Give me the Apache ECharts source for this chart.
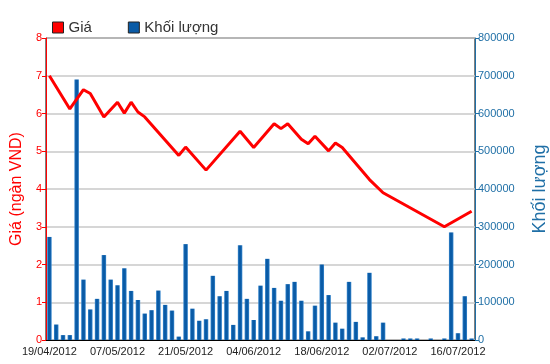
<!DOCTYPE html>
<html>
<head>
<meta charset="utf-8">
<script src="https://cdn.jsdelivr.net/npm/echarts@6/dist/echarts.min.js"></script>
<style>
html,body{margin:0;padding:0;background:#fff;}
#chart{width:550px;height:364px;}
</style>
</head>
<body>
<div id="chart"></div>
<script>
const categories = [
  "19/04/2012","20/04/2012","23/04/2012","24/04/2012","25/04/2012","26/04/2012","27/04/2012",
  "02/05/2012","03/05/2012","04/05/2012","07/05/2012","08/05/2012","09/05/2012","10/05/2012","11/05/2012",
  "14/05/2012","15/05/2012","16/05/2012","17/05/2012","18/05/2012","21/05/2012","22/05/2012","23/05/2012",
  "24/05/2012","25/05/2012","28/05/2012","29/05/2012","30/05/2012","31/05/2012","01/06/2012","04/06/2012",
  "05/06/2012","06/06/2012","07/06/2012","08/06/2012","11/06/2012","12/06/2012","13/06/2012","14/06/2012",
  "15/06/2012","18/06/2012","19/06/2012","20/06/2012","21/06/2012","22/06/2012","25/06/2012","26/06/2012",
  "27/06/2012","28/06/2012","29/06/2012","02/07/2012","03/07/2012","04/07/2012","05/07/2012","06/07/2012",
  "09/07/2012","10/07/2012","11/07/2012","12/07/2012","13/07/2012","16/07/2012","17/07/2012","18/07/2012"
];

const priceValues = [
  7.0, null, null, 6.12, null, 6.63, 6.53, null, 5.91, null,
  6.3, 6.01, 6.30, 6.04, 5.91, null, null, null, null, 4.89,
  5.11, null, null, 4.5, null, null, null, null, 5.53, null,
  5.10, null, null, 5.73, 5.6, 5.73, null, 5.32, 5.2, 5.40,
  null, 5.01, 5.22, 5.1, null, null, null, 4.25, null, 3.90,
  null, null, null, null, null, null, null, null, 3.0, null,
  null, null, 3.41
];

const volumeValues = [
  273000, 41000, 13000, 13000, 690000, 160000, 81000, 109000, 225000, 160000,
  145000, 190000, 130000, 106000, 70000, 79000, 131000, 93000, 78000, 9000,
  254000, 83000, 51000, 55000, 170000, 116000, 130000, 40000, 251000, 109000,
  53000, 144000, 215000, 138000, 104000, 148000, 154000, 104000, 23000, 91000,
  200000, 119000, 46000, 30000, 154000, 48000, 7000, 178000, 10000, 46000,
  0, 0, 4000, 4000, 4000, 0, 4000, 0, 4000, 285000,
  18000, 116000, 4000
];

const priceTicks = { min: 0, max: 8, interval: 1 };
const volumeTicks = { min: 0, max: 800000, interval: 100000 };

const RED = '#ff0000';
const BLUE = '#1f6fa6';
const BAR = '#0a5ba6';
const FONT = '"Liberation Sans", Arial, sans-serif';

const chart = echarts.init(document.getElementById('chart'), null, { renderer: 'canvas' });
chart.setOption({
  animation: false,
  textStyle: { fontFamily: FONT },
  legend: {
    left: 47, top: 15,
    itemWidth: 11, itemHeight: 11, itemGap: 36,
    textStyle: { fontSize: 15, color: '#333', fontFamily: FONT },
    data: [
      { name: 'Giá', icon: 'rect', itemStyle: { color: RED, borderColor: '#222', borderWidth: 1 } },
      { name: 'Khối lượng', icon: 'rect', itemStyle: { color: BAR, borderColor: '#222', borderWidth: 1 } }
    ]
  },
  grid: {
    left: 46, right: 75, top: 38, bottom: 24,
    containLabel: false,
    outerBoundsMode: 'none',
    show: true, borderColor: '#000', borderWidth: 1, backgroundColor: 'transparent'
  },
  xAxis: {
    type: 'category',
    data: categories,
    boundaryGap: true,
    axisLine: { lineStyle: { color: '#000', width: 1 } },
    axisTick: { alignWithLabel: true, interval: 9, length: 5, lineStyle: { color: '#000' } },
    axisLabel: { interval: 9, color: '#222', fontSize: 11, margin: 6, fontFamily: FONT },
    splitLine: { show: false }
  },
  yAxis: [
    {
      type: 'value',
      position: 'left',
      min: priceTicks.min, max: priceTicks.max, interval: priceTicks.interval,
      name: 'Giá (ngàn VND)',
      nameLocation: 'middle',
      nameGap: 21,
      nameRotate: 90,
      nameTextStyle: { color: RED, fontSize: 16, fontFamily: FONT },
      axisLine: { show: true, lineStyle: { color: RED, width: 1 } },
      axisTick: { show: true, length: 4, lineStyle: { color: RED } },
      axisLabel: { color: RED, fontSize: 11, margin: 4, fontFamily: FONT },
      splitLine: { show: true, lineStyle: { color: '#c8c8c8', width: 1.5 } }
    },
    {
      type: 'value',
      position: 'right',
      min: volumeTicks.min, max: volumeTicks.max, interval: volumeTicks.interval,
      name: 'Khối lượng',
      nameLocation: 'middle',
      nameGap: 56,
      nameRotate: 90,
      nameTextStyle: { color: BLUE, fontSize: 18, fontFamily: FONT },
      axisLine: { show: true, lineStyle: { color: BLUE, width: 1 } },
      axisTick: { show: true, length: 4, lineStyle: { color: BLUE } },
      axisLabel: { color: BLUE, fontSize: 11, margin: 3, fontFamily: FONT, formatter: function (v) { return String(v); } },
      splitLine: { show: false }
    }
  ],
  series: [
    {
      name: 'Khối lượng',
      type: 'bar',
      yAxisIndex: 1,
      data: volumeValues,
      barWidth: '66%',
      itemStyle: {
        color: new echarts.graphic.LinearGradient(0, 0, 1, 0, [
          { offset: 0, color: '#3b8ad0' },
          { offset: 0.3, color: BAR },
          { offset: 0.7, color: BAR },
          { offset: 1, color: '#3b8ad0' }
        ])
      },
      z: 2
    },
    {
      name: 'Giá',
      type: 'line',
      yAxisIndex: 0,
      data: priceValues,
      connectNulls: true,
      symbol: 'none',
      lineStyle: { color: RED, width: 3 },
      itemStyle: { color: RED },
      z: 5
    }
  ]
});
</script>
</body>
</html>
